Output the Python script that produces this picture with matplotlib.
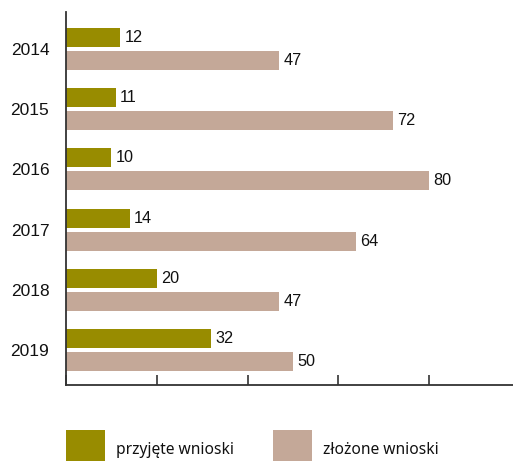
import matplotlib
matplotlib.use("Agg")
import matplotlib.pyplot as plt
from matplotlib.patches import Rectangle
import numpy as np

years = ["2014", "2015", "2016", "2017", "2018", "2019"]
accepted = [12, 11, 10, 14, 20, 32]
submitted = [47, 72, 80, 64, 47, 50]
series_names = ["przyjęte wnioski", "złożone wnioski"]
colors = ["#988c00", "#c4a898"]

W, H = 513, 461
fig = plt.figure(figsize=(W / 100, H / 100), dpi=100)
ax = fig.add_axes([66 / W, (H - 385) / H, (W - 66) / W, (385 - 12) / H])

y = np.arange(len(years))
bh = 19 / 60
off = 11.5 / 60
b1 = ax.barh(y - off, accepted, height=bh, color=colors[0])
b2 = ax.barh(y + off, submitted, height=bh, color=colors[1])

for bars, vals in ((b1, accepted), (b2, submitted)):
    for rect, v in zip(bars, vals):
        ax.annotate(str(v), (rect.get_width(), rect.get_y() + rect.get_height() / 2),
                    xytext=(3, 0), textcoords="offset points", ha="left", va="center",
                    fontsize=11.7, family="Liberation Sans", color="#111111")

ax.set_xlim(0, 98.5)
ax.set_ylim(5.583, -0.617)
ax.set_yticks(y)
ax.set_yticklabels(years, fontsize=12.5, family="Liberation Sans", color="#111111")
ax.tick_params(axis="y", length=0, pad=12)
ax.set_xticks([0, 20, 40, 60, 80])
ax.set_xticklabels([])
ax.tick_params(axis="x", direction="in", length=7, width=1.2, color="#333333")
for s in ("top", "right"):
    ax.spines[s].set_visible(False)
for s in ("left", "bottom"):
    ax.spines[s].set_linewidth(1.3)
    ax.spines[s].set_color("#333333")

# legend
for (x0, tx), name, c in zip(((66, 116), (273, 323)), series_names, colors):
    fig.add_artist(Rectangle((x0 / W, 0), 39 / W, (H - 430) / H, transform=fig.transFigure,
                             facecolor=c, edgecolor="none"))
    fig.text(tx / W, (H - 450) / H, name, ha="left", va="center", fontsize=11.2,
             family="Noto Sans", color="#111111")

fig.savefig("out.png", dpi=100)
